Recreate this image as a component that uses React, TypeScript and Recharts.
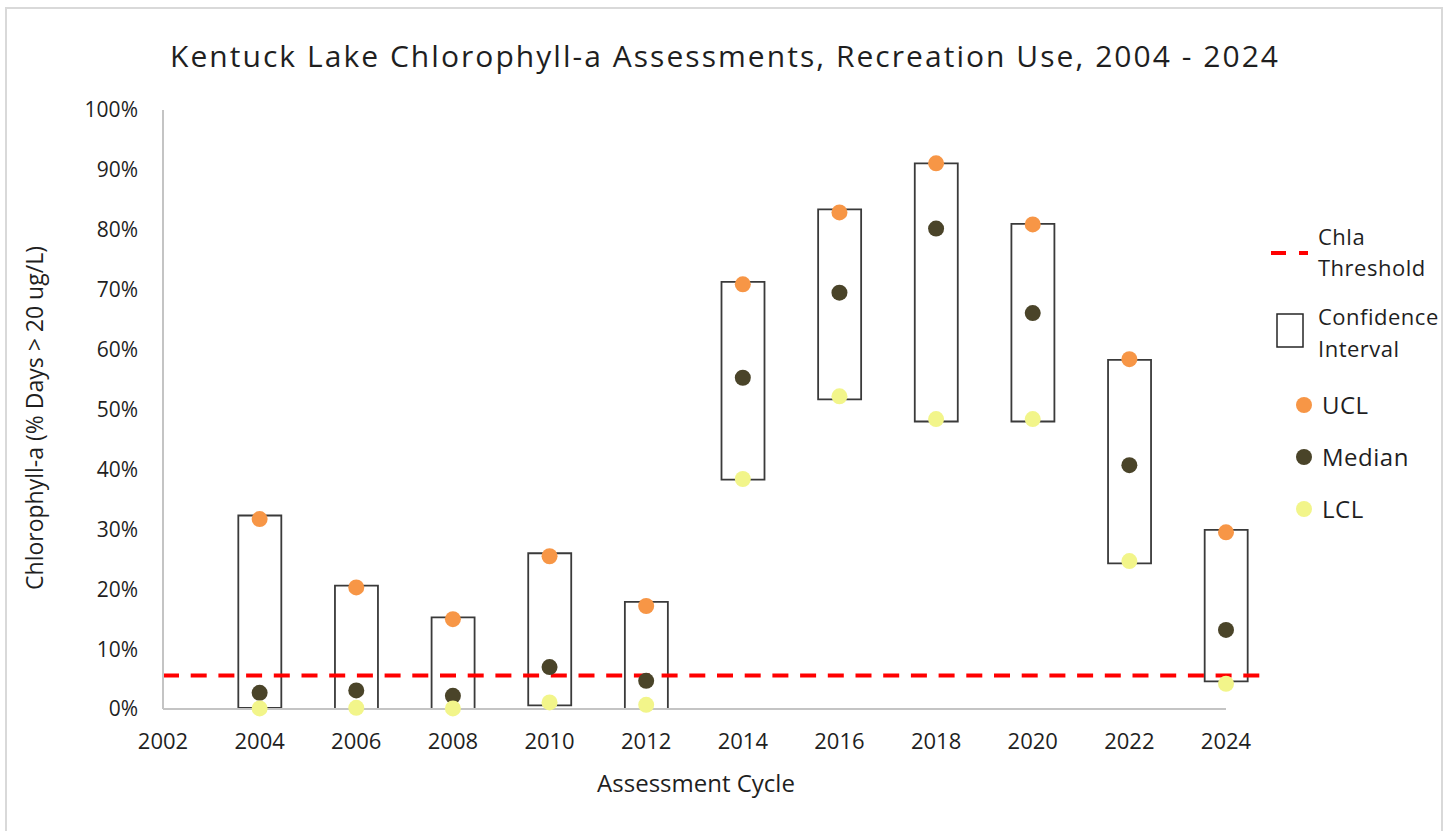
import React from "react";
import {Bar, ComposedChart, ReferenceLine, Scatter, XAxis, YAxis} from "recharts";

// assessment cycles and the values (percent of days > 20 ug/L)
const years = [2004, 2006, 2008, 2010, 2012, 2014, 2016, 2018, 2020, 2022, 2024];
const ucl = [31.7, 20.3, 15.0, 25.5, 17.2, 70.9, 82.9, 91.1, 80.9, 58.4, 29.5];
const median = [2.7, 3.1, 2.2, 7.0, 4.7, 55.3, 69.5, 80.2, 66.1, 40.7, 13.2];
const lcl = [0.1, 0.2, 0.1, 1.1, 0.7, 38.4, 52.2, 48.4, 48.4, 24.7, 4.2];
// confidence interval boxes
const ciLow = [0.2, 0, 0, 0.6, 0, 38.3, 51.7, 48.0, 48.0, 24.3, 4.6];
const ciHigh = [32.3, 20.6, 15.3, 26.0, 17.9, 71.3, 83.4, 91.1, 81.0, 58.3, 29.9];

const threshold = 5.6;
const thresholdFrom = 2002;
const thresholdTo = 2024.75;

const xTicks = [2002, 2004, 2006, 2008, 2010, 2012, 2014, 2016, 2018, 2020, 2022, 2024];
const yTicks = [0, 10, 20, 30, 40, 50, 60, 70, 80, 90, 100];

const FONT = "'Open Sans', sans-serif";
const UCL_COLOR = '#F79646';
const MEDIAN_COLOR = '#4A4429';
const LCL_COLOR = '#F2F58A';
const TEXT = '#1f1f1f';

const rows = years.map((year, i) => ({
  year,
  ci: [ciLow[i], ciHigh[i]],
  ucl: ucl[i],
  median: median[i],
  lcl: lcl[i],
}));

const dot = (color: string) => (props: any) =>
  <circle cx={props.cx} cy={props.cy} r={8} fill={color}/>;

const Overlay = () => (
  <svg width={1450} height={831} style={{position: 'absolute', left: 0, top: 0, pointerEvents: 'none'}}
       fontFamily={FONT}>
    <text x={724} y={67} textAnchor="middle" fontSize={30} fill={TEXT} textLength={1108}
          lengthAdjust="spacing">
      Kentuck Lake Chlorophyll-a Assessments, Recreation Use, 2004 - 2024
    </text>
    <text x={696} y={792} textAnchor="middle" fontSize={24} fill={TEXT}>Assessment Cycle</text>
    <text x={34} y={418} textAnchor="middle" dominantBaseline="central" fontSize={23} fill={TEXT}
          transform="rotate(-90 34 418)">
      Chlorophyll-a (% Days &gt; 20 ug/L)
    </text>

    {/* legend */}
    <line x1={1271} y1={253} x2={1308} y2={253} stroke="#FF0000" strokeWidth={4} strokeDasharray="15 13"/>
    <text x={1318} y={245} fontSize={22} letterSpacing={0.5} fill={TEXT}>Chla</text>
    <text x={1318} y={276} fontSize={22} letterSpacing={0.5} fill={TEXT}>Threshold</text>
    <rect x={1277} y={314} width={26} height={33} fill="none" stroke="#262626" strokeWidth={1.5}/>
    <text x={1318} y={325} fontSize={22} letterSpacing={0.5} fill={TEXT}>Confidence</text>
    <text x={1318} y={357} fontSize={22} letterSpacing={0.5} fill={TEXT}>Interval</text>
    <circle cx={1304} cy={405} r={8} fill={UCL_COLOR}/>
    <text x={1322} y={414} fontSize={24} letterSpacing={0.5} fill={TEXT}>UCL</text>
    <circle cx={1304} cy={457} r={8} fill={MEDIAN_COLOR}/>
    <text x={1322} y={466} fontSize={24} letterSpacing={0.5} fill={TEXT}>Median</text>
    <circle cx={1304} cy={509} r={8} fill={LCL_COLOR}/>
    <text x={1322} y={518} fontSize={24} letterSpacing={0.5} fill={TEXT}>LCL</text>
  </svg>
);

export default function App() {
  return (
    <div style={{position: 'absolute', left: 0, top: 0, width: 1450, height: 831, background: '#fff'}}>
      <div style={{
        position: 'absolute', left: 5, top: 7, width: 1434, height: 824,
        borderTop: '2px solid #d9d9d9', borderLeft: '2px solid #d9d9d9', borderRight: '2px solid #d9d9d9',
      }}/>
      <ComposedChart width={1450} height={831} data={rows}
                     margin={{top: 110, right: 224, bottom: 82, left: 103}}
                     style={{position: 'absolute', left: 0, top: 0}}>
        <XAxis dataKey="year" type="number" domain={[2002, 2024]} ticks={xTicks} height={40}
               tickLine={false} tickMargin={18} axisLine={{stroke: '#c4c4c4', strokeWidth: 2}}
               tick={{fill: TEXT, fontSize: 22, fontFamily: FONT}} interval={0}/>
        <YAxis type="number" domain={[0, 100]} ticks={yTicks} width={60} tickLine={false} tickMargin={19}
               axisLine={{stroke: '#c4c4c4', strokeWidth: 2}}
               tickFormatter={(v: number) => `${v}%`}
               tick={{fill: TEXT, fontSize: 21, fontFamily: FONT}} interval={0}/>
        <Bar dataKey="ci" barSize={43} fill="none" stroke="#3a3a3a" strokeWidth={1.8}
             isAnimationActive={false}/>
        <Scatter dataKey="ucl" fill={UCL_COLOR} shape={dot(UCL_COLOR)} isAnimationActive={false}/>
        <Scatter dataKey="median" fill={MEDIAN_COLOR} shape={dot(MEDIAN_COLOR)} isAnimationActive={false}/>
        <Scatter dataKey="lcl" fill={LCL_COLOR} shape={dot(LCL_COLOR)} isAnimationActive={false}/>
        <ReferenceLine segment={[{x: thresholdFrom, y: threshold}, {x: thresholdTo, y: threshold}]}
                       ifOverflow="visible" stroke="#FF0000" strokeWidth={4} strokeDasharray="16 11.7"/>
      </ComposedChart>
      <Overlay/>
    </div>
  );
}
